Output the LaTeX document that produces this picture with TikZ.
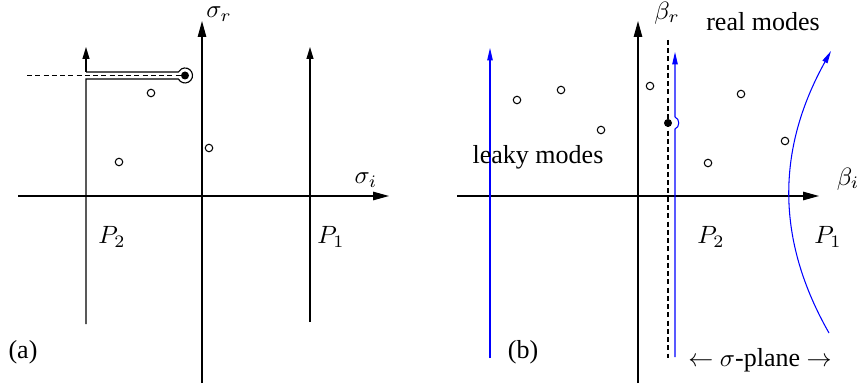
\documentclass[tikz,border=0pt]{standalone}
\usepackage{fontspec}
\setmainfont{Liberation Serif}
\usetikzlibrary{arrows.meta}
\begin{document}
\begin{tikzpicture}[x=0.4pt,y=-0.4pt,
  every node/.style={font=\fontsize{10.4}{12}\selectfont, inner sep=0pt},
  axis/.style={line width=0.47pt, -{Triangle[length=6.4pt,width=3.4pt]}},
  cutline/.style={line width=0.45pt, -{Triangle[length=4.8pt,width=2.8pt]}},
  bluepath/.style={blue, line width=0.42pt, -{Triangle[length=5pt,width=2.2pt]}},
  pole/.style={circle, draw, line width=0.42pt, minimum size=3pt, inner sep=0pt},
  dot/.style={circle, fill, minimum size=3.2pt, inner sep=0pt},
  cut/.style={dash pattern=on 2pt off 1.3pt, line width=0.42pt},
  ]
\useasboundingbox (0,0) rectangle (859,385);
% ---------- panel (a) ----------
\draw[axis] (202,383) -- (202,21);
\draw[axis] (18,196) -- (389,196);
\node (sr) at (219,14) {$\sigma_r$};
\node (si) at (366,180) {$\sigma_i$};
\draw[cutline] (310,322) -- (310,47);
\node[dot] (bp) at (185,75.5) {};
\draw[cut] (27,75.5) -- (bp.center);
\draw[line width=0.45pt] (86,324) -- (86,79) -- (178.4,79)
   arc[start angle=208, end angle=512, radius=3pt] -- (86,72);
\draw[cutline] (86,72) -- (86,47);
\node[pole] (a1) at (119,162) {};
\node[pole] (a2) at (151,93) {};
\node[pole] (a3) at (209,148) {};
\node (P2a) at (112,237) {$P_2$};
\node (P1a) at (331,237) {$P_1$};
\node (la) at (23,352) {(a)};
% ---------- panel (b) ----------
\draw[axis] (638,383) -- (638,21);
\draw[axis] (457,196) -- (819,196);
\node (br) at (667,13) {$\beta_r$};
\node (bi) at (848,179) {$\beta_i$};
\draw[bluepath] (490,358) -- (490,48);
\draw[cut] (668,40) -- (668,358);
\node[dot] (bq) at (668,123) {};
\draw[bluepath] (675,357) -- (675,129) .. controls (680,127) and (680,119) .. (675,117) -- (675,52);
\draw[bluepath] (829,333) .. controls (776,240) and (776,150) .. (831,51);
\node[pole] (b1) at (517,100) {};
\node[pole] (b2) at (561,90) {};
\node[pole] (b3) at (601,130) {};
\node[pole] (b4) at (650,86) {};
\node[pole] (b5) at (741,94) {};
\node[pole] (b6) at (785,141) {};
\node[pole] (b7) at (708,163) {};
\node (leaky) at (538,157) {leaky modes};
\node (real) at (763,22) {real modes};
\node (P2b) at (711,237) {$P_2$};
\node (P1b) at (828,237) {$P_1$};
\node (sp) at (760,360) {$\leftarrow$ $\sigma$-plane $\rightarrow$};
\node (lb) at (523,352) {(b)};
\end{tikzpicture}
\end{document}
